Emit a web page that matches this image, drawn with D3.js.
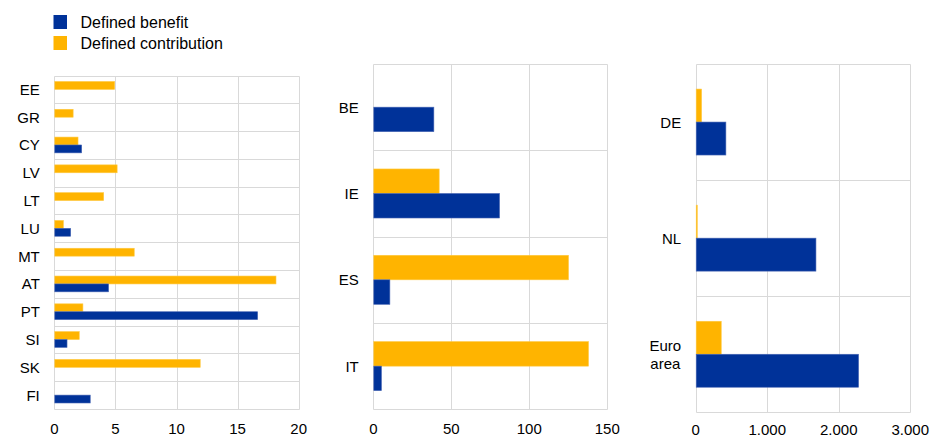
<!DOCTYPE html>
<html>
<head>
<meta charset="utf-8">
<script src="https://cdn.jsdelivr.net/npm/d3@7"></script>
<style>
  html, body { margin: 0; padding: 0; background: #fff; }
  svg { display: block; font-family: "Liberation Sans", Arial, sans-serif; }
</style>
</head>
<body>
<svg id="chart" width="931" height="437"></svg>
<script>
// ---- Data ----
const seriesNames = ["Defined benefit", "Defined contribution"];
const seriesColors = ["#003299", "#ffb400"];
const seriesStrokes = ["#4a68b5", "#ffc940"];

const leftCategories = ["EE", "GR", "CY", "LV", "LT", "LU", "MT", "AT", "PT", "SI", "SK", "FI"];
const leftDB = [0, 0, 2.2, 0, 0, 1.3, 0, 4.4, 16.6, 1.0, 0, 2.9];
const leftDC = [4.9, 1.5, 1.9, 5.1, 4.0, 0.7, 6.5, 18.1, 2.3, 2.0, 11.9, 0];
const leftTicks = [0, 5, 10, 15, 20];

const midCategories = ["BE", "IE", "ES", "IT"];
const midDB = [38.5, 80.6, 10.3, 4.9];
const midDC = [0, 41.9, 124.8, 137.6];
const midTicks = [0, 50, 100, 150];

const rightCategories = ["DE", "NL", "Euro area"];
const rightDB = [415, 1674, 2270];
const rightDC = [75, 15, 350];
const rightTicks = [0, 1000, 2000, 3000];

// ---- Layout ----
const svg = d3.select("#chart");
const grid = "#d9d9d9";
const euroLocale = d3.formatLocale({decimal: ",", thousands: ".", grouping: [3], currency: ["", "€"]});
const fmtThousands = euroLocale.format(",");

const panels = [
  {cats: leftCategories, db: leftDB, dc: leftDC, ticks: leftTicks, x0: 54.3, x1: 298.7, top: 75.5, bottom: 409, fmt: d3.format("d")},
  {cats: midCategories, db: midDB, dc: midDC, ticks: midTicks, x0: 373.3, x1: 607.3, top: 64, bottom: 409.3, fmt: d3.format("d")},
  {cats: rightCategories, db: rightDB, dc: rightDC, ticks: rightTicks, x0: 695.7, x1: 910.3, top: 64, bottom: 412.3, fmt: fmtThousands}
];

panels.forEach(p => {
  const g = svg.append("g");
  const x = d3.scaleLinear().domain([p.ticks[0], p.ticks[p.ticks.length - 1]]).range([p.x0, p.x1]);
  const y = d3.scaleBand().domain(p.cats).range([p.top, p.bottom]).padding(0);
  const sub = d3.scaleBand().domain(["dc", "db"]).range([0, y.bandwidth()]).paddingInner(0).paddingOuter(0.76);

  // vertical gridlines
  g.selectAll("line.v").data(p.ticks).join("line")
    .attr("x1", d => Math.round(x(d)) + 0.5).attr("x2", d => Math.round(x(d)) + 0.5)
    .attr("y1", Math.round(p.top) + 0.5).attr("y2", Math.round(p.bottom) + 0.5)
    .attr("stroke", grid).attr("stroke-width", 1);
  // horizontal gridlines (row boundaries)
  const bounds = p.cats.map(c => y(c)).concat([p.bottom]);
  g.selectAll("line.h").data(bounds).join("line")
    .attr("x1", Math.round(p.x0) + 0.5).attr("x2", Math.round(p.x1) + 0.5)
    .attr("y1", d => Math.round(d) + 0.5).attr("y2", d => Math.round(d) + 0.5)
    .attr("stroke", grid).attr("stroke-width", 1);

  // bars
  const rows = p.cats.map((c, i) => ({c, db: p.db[i], dc: p.dc[i]}));
  const bars = [];
  rows.forEach(r => {
    bars.push({c: r.c, k: "dc", v: r.dc, col: seriesColors[1], st: seriesStrokes[1]});
    bars.push({c: r.c, k: "db", v: r.db, col: seriesColors[0], st: seriesStrokes[0]});
  });
  g.selectAll("rect.bar").data(bars.filter(b => b.v > 0)).join("rect")
    .attr("x", x(0) + 0.5)
    .attr("y", d => y(d.c) + sub(d.k))
    .attr("width", d => Math.max(0.8, x(d.v) - x(0)))
    .attr("height", sub.bandwidth())
    .attr("fill", d => d.col)
    .attr("stroke", d => d.st).attr("stroke-width", 0.6);

  // x tick labels
  g.selectAll("text.tick").data(p.ticks).join("text")
    .attr("x", d => x(d)).attr("y", Math.min(p.bottom + 19, 429.5))
    .attr("text-anchor", "middle").attr("dominant-baseline", "central")
    .attr("font-size", 15).attr("fill", "#000")
    .text(d => p.fmt(d));

  // category labels
  const labelRight = p.x0 - 14.5;
  p.cats.forEach(c => {
    const words = c.split(" ");
    const cy = y(c) + y.bandwidth() / 2;
    const t = g.append("text").attr("font-size", 15).attr("fill", "#000");
    if (words.length === 1) {
      t.attr("x", labelRight).attr("y", cy).attr("text-anchor", "end")
        .attr("dominant-baseline", "central").text(c);
    } else {
      const lh = 18;
      t.attr("text-anchor", "middle");
      words.forEach((w, i) => {
        t.append("tspan").attr("x", 0).attr("y", cy + (i - (words.length - 1) / 2) * lh)
          .attr("dominant-baseline", "central").text(w);
      });
      const bb = t.node().getBBox();
      t.attr("transform", `translate(${labelRight - bb.width / 2},0)`);
    }
  });
});

// ---- Legend ----
const legend = svg.append("g");
seriesNames.forEach((name, i) => {
  const cy = 22 + i * 21;
  legend.append("rect").attr("x", 53.5).attr("y", cy - 7).attr("width", 13.5).attr("height", 14)
    .attr("fill", seriesColors[i]);
  legend.append("text").attr("x", 80.5).attr("y", cy).attr("dominant-baseline", "central")
    .attr("font-size", 16).attr("fill", "#000").text(name);
});
</script>
</body>
</html>
